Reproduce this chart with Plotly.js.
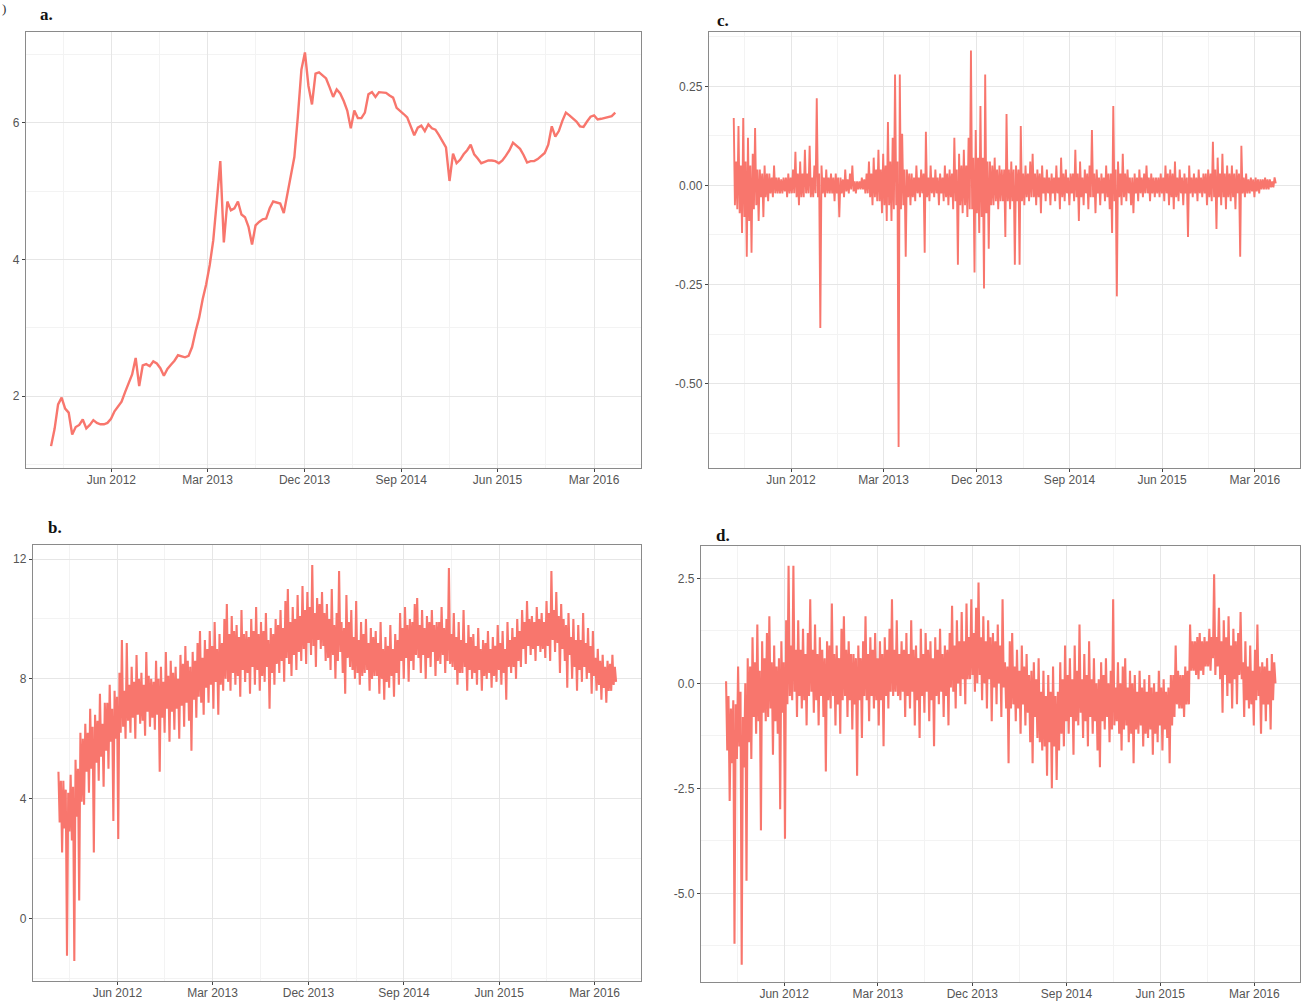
<!DOCTYPE html>
<html>
<head>
<meta charset="utf-8">
<script src="https://cdn.plot.ly/plotly-3.0.1.min.js"></script>
<style>
  html, body { margin: 0; padding: 0; background: #ffffff; }
  #chart { width: 1311px; height: 1003px; }
</style>
</head>
<body>
<div id="chart"></div>
<script>
// ---------------- DATA ----------------
// Panel a: smooth series, sampled every 10 days from 2011-12-13
const aStart = "2011-12-13";
const aStepDays = 10;
const aValues = [
  1.27,1.52,1.88,1.98,1.82,1.76,1.44,1.55,1.58,1.66,
  1.53,1.58,1.65,1.61,1.59,1.59,1.61,1.67,1.78,1.86,
  1.92,2.06,2.18,2.32,2.56,2.15,2.45,2.47,2.44,2.51,
  2.48,2.41,2.30,2.40,2.46,2.52,2.60,2.59,2.57,2.59,
  2.72,2.95,3.15,3.42,3.64,3.92,4.28,4.85,5.44,4.25,
  4.85,4.72,4.75,4.85,4.66,4.62,4.48,4.22,4.50,4.55,
  4.59,4.60,4.75,4.85,4.83,4.82,4.68,4.97,5.22,5.50,
  6.10,6.78,7.03,6.54,6.27,6.72,6.74,6.70,6.65,6.52,
  6.38,6.49,6.43,6.32,6.18,5.92,6.18,6.07,6.07,6.15,
  6.42,6.45,6.38,6.45,6.44,6.44,6.40,6.37,6.22,6.18,
  6.13,6.08,5.96,5.82,5.93,5.96,5.88,5.98,5.92,5.90,
  5.82,5.74,5.64,5.15,5.55,5.41,5.46,5.54,5.60,5.68,
  5.54,5.48,5.41,5.43,5.45,5.45,5.44,5.41,5.45,5.52,
  5.60,5.71,5.67,5.62,5.53,5.42,5.44,5.44,5.47,5.52,
  5.56,5.68,5.95,5.80,5.88,6.03,6.15,6.11,6.07,6.02,
  5.95,5.94,6.02,6.09,6.11,6.05,6.06,6.07,6.08,6.10,
  6.15
];

// Panels b, c, d: weekly high and low readings, weeks starting 2011-12-15
const nStart = "2011-12-15";
const nStepDays = 7;

const bHigh = [
  4.9,4.6,4.6,4.3,4.2,4.8,4.4,5.3,5.0,6.2,
  6.0,6.5,6.2,7.0,6.4,6.8,6.6,7.5,6.5,7.2,
  7.2,7.8,7.0,7.6,7.4,8.2,9.3,7.6,9.2,7.8,
  8.4,7.9,8.8,8.0,8.2,7.8,8.9,8.1,8.0,7.9,
  8.6,8.0,8.4,7.9,8.9,8.1,8.6,8.2,8.4,8.0,
  8.8,8.5,9.1,8.6,8.4,8.9,8.6,9.2,9.6,8.7,
  9.3,9.0,9.6,9.1,9.9,9.0,9.5,9.2,10.0,10.5,
  9.5,10.1,9.6,9.8,9.4,10.3,9.5,9.6,9.4,10.0,
  9.6,10.4,9.5,9.9,9.6,10.2,9.3,9.7,9.5,10.0,
  9.8,10.3,9.7,10.6,11.0,9.9,10.4,10.0,10.8,10.1,
  11.1,10.3,10.9,10.4,11.8,10.2,10.7,10.5,10.9,10.2,
  10.5,10.0,11.0,9.8,10.2,11.6,9.9,9.7,10.8,9.9,
  10.3,9.4,10.6,9.3,9.9,9.5,10.0,9.2,9.7,9.4,
  9.6,9.2,9.9,9.0,9.4,9.1,9.8,9.0,9.5,9.3,
  10.2,9.7,10.4,9.8,10.0,9.9,10.5,10.7,9.8,10.3,
  9.7,10.1,9.9,10.3,9.8,9.9,9.9,10.4,9.7,10.0,
  11.7,9.5,10.2,9.4,9.9,9.3,10.3,9.2,9.8,9.4,
  9.5,9.1,9.7,9.0,9.3,9.2,9.6,9.0,9.4,9.1,
  9.8,9.2,9.6,9.0,9.9,9.3,9.7,9.4,10.0,9.6,
  10.3,9.9,10.6,10.0,10.1,9.9,10.4,10.0,10.2,9.9,
  10.6,10.2,11.6,10.3,10.9,10.1,10.5,10.0,9.8,10.2,
  9.4,10.0,9.3,9.8,9.3,10.2,9.2,9.7,9.1,9.6,
  8.7,9.0,8.6,8.8,8.4,8.6,8.5,8.8,8.4
];
const bLow = [
  3.2,2.2,3.0,-1.25,2.9,2.6,-1.42,3.4,0.6,3.9,
  3.8,4.9,4.2,5.0,2.2,5.2,4.6,5.4,4.4,5.6,
  5.0,5.9,3.25,6.0,2.65,6.2,6.4,6.0,6.6,6.2,
  6.7,6.0,6.8,6.5,6.6,6.1,6.9,6.4,6.7,6.3,
  6.8,4.9,6.7,6.2,7.0,5.9,6.9,6.3,7.0,6.0,
  7.1,6.4,7.2,6.6,5.6,7.3,6.7,7.4,7.2,6.8,
  7.7,7.2,7.8,7.0,7.9,6.8,7.8,7.6,8.0,7.9,
  7.6,8.2,7.8,8.1,7.4,8.3,7.9,8.2,7.5,8.4,
  7.8,8.3,7.6,8.1,7.9,8.4,7.0,8.2,7.8,8.5,
  8.2,8.6,7.9,8.7,8.5,8.1,8.8,8.3,8.9,8.6,
  9.0,8.5,9.2,8.8,9.1,8.4,9.3,9.0,9.1,8.6,
  8.7,8.3,8.8,8.0,8.6,8.9,8.2,7.5,8.7,8.4,
  8.3,8.0,8.2,7.8,8.1,8.2,8.3,7.6,8.0,8.1,
  8.1,7.5,8.0,7.3,7.9,7.7,8.1,7.4,8.2,7.8,
  8.6,8.0,8.7,7.9,8.6,8.3,8.8,8.7,8.2,8.8,
  8.0,8.7,8.4,8.9,8.1,8.6,8.5,8.8,8.2,8.6,
  8.5,8.4,8.3,7.8,8.2,8.2,8.4,7.6,8.3,8.0,
  8.2,7.8,8.3,7.6,8.1,8.0,8.2,7.7,8.1,7.9,
  8.3,7.8,8.2,7.3,8.4,8.2,8.4,8.0,8.6,8.4,
  9.0,8.5,9.1,8.8,9.0,8.6,9.1,8.9,9.0,8.7,
  9.1,8.6,9.3,8.9,9.2,8.2,9.0,8.6,7.7,8.8,
  8.0,8.4,7.6,8.3,7.9,8.4,8.0,8.2,7.5,8.1,
  7.6,7.8,7.3,7.7,7.2,7.6,7.6,7.8,7.9
];

const cHigh = [
  0.17,0.06,0.15,0.05,0.17,0.06,0.12,0.05,0.08,0.145,
  0.04,0.04,0.03,0.05,0.03,0.03,0.02,0.05,0.02,0.02,
  0.015,0.02,0.02,0.03,0.02,0.04,0.085,0.03,0.06,0.03,
  0.09,0.03,0.10,0.02,0.05,0.22,0.03,0.05,0.02,0.04,
  0.02,0.03,0.02,0.03,0.02,0.02,0.015,0.04,0.015,0.03,
  0.05,0.01,0.01,0.01,0.02,0.015,0.03,0.06,0.03,0.07,
  0.04,0.09,0.04,0.08,0.05,0.16,0.06,0.12,0.28,0.06,
  0.28,0.13,0.04,0.04,0.03,0.03,0.02,0.05,0.02,0.04,
  0.03,0.135,0.02,0.05,0.02,0.04,0.02,0.03,0.02,0.05,
  0.03,0.04,0.03,0.12,0.04,0.08,0.05,0.09,0.05,0.12,
  0.34,0.07,0.14,0.07,0.20,0.07,0.28,0.06,0.06,0.05,
  0.07,0.04,0.05,0.04,0.04,0.18,0.04,0.06,0.04,0.05,
  0.04,0.15,0.03,0.05,0.03,0.06,0.08,0.03,0.04,0.03,
  0.05,0.02,0.04,0.02,0.03,0.02,0.05,0.02,0.07,0.03,
  0.04,0.02,0.03,0.03,0.09,0.03,0.06,0.02,0.04,0.03,
  0.05,0.14,0.03,0.04,0.02,0.03,0.02,0.05,0.03,0.03,
  0.20,0.04,0.06,0.03,0.08,0.03,0.04,0.02,0.02,0.03,
  0.02,0.04,0.02,0.03,0.05,0.02,0.03,0.02,0.02,0.02,
  0.03,0.02,0.05,0.03,0.04,0.03,0.06,0.02,0.04,0.02,
  0.03,0.02,0.05,0.02,0.03,0.02,0.04,0.02,0.03,0.03,
  0.04,0.03,0.11,0.04,0.07,0.03,0.08,0.03,0.05,0.03,
  0.05,0.03,0.04,0.03,0.10,0.02,0.03,0.015,0.02,0.015,
  0.02,0.015,0.015,0.015,0.02,0.015,0.015,0.01,0.02
];
const cLow = [
  -0.05,-0.06,-0.07,-0.12,-0.08,-0.18,-0.09,-0.17,-0.06,-0.05,
  -0.09,-0.03,-0.08,-0.03,-0.04,-0.02,-0.03,-0.02,-0.02,-0.02,
  -0.02,-0.015,-0.03,-0.02,-0.02,-0.02,-0.03,-0.05,-0.03,-0.03,
  -0.02,-0.02,-0.03,-0.03,-0.02,-0.03,-0.36,-0.02,-0.03,-0.02,
  -0.02,-0.02,-0.04,-0.02,-0.08,-0.02,-0.03,-0.015,-0.02,-0.01,
  -0.015,-0.02,-0.01,-0.01,-0.01,-0.02,-0.02,-0.03,-0.05,-0.03,
  -0.04,-0.04,-0.07,-0.05,-0.09,-0.05,-0.09,-0.06,-0.05,-0.66,
  -0.06,-0.05,-0.18,-0.03,-0.05,-0.03,-0.04,-0.02,-0.03,-0.02,
  -0.17,-0.03,-0.04,-0.02,-0.03,-0.02,-0.05,-0.02,-0.04,-0.03,
  -0.05,-0.03,-0.06,-0.04,-0.20,-0.05,-0.07,-0.05,-0.08,-0.06,
  -0.06,-0.22,-0.07,-0.12,-0.08,-0.26,-0.07,-0.16,-0.05,-0.05,
  -0.04,-0.06,-0.04,-0.04,-0.13,-0.04,-0.06,-0.04,-0.20,-0.04,
  -0.20,-0.04,-0.05,-0.03,-0.04,-0.03,-0.03,-0.05,-0.03,-0.07,
  -0.02,-0.04,-0.02,-0.05,-0.02,-0.04,-0.02,-0.06,-0.03,-0.04,
  -0.02,-0.05,-0.02,-0.04,-0.03,-0.09,-0.03,-0.05,-0.02,-0.06,
  -0.03,-0.03,-0.07,-0.02,-0.05,-0.02,-0.04,-0.03,-0.06,-0.12,
  -0.04,-0.28,-0.03,-0.05,-0.03,-0.04,-0.02,-0.05,-0.07,-0.02,
  -0.04,-0.02,-0.03,-0.02,-0.02,-0.04,-0.02,-0.03,-0.02,-0.03,
  -0.02,-0.04,-0.02,-0.05,-0.03,-0.06,-0.03,-0.04,-0.02,-0.05,
  -0.02,-0.13,-0.02,-0.03,-0.02,-0.04,-0.02,-0.03,-0.02,-0.05,
  -0.03,-0.04,-0.03,-0.11,-0.03,-0.05,-0.03,-0.06,-0.03,-0.04,
  -0.03,-0.06,-0.02,-0.18,-0.02,-0.03,-0.02,-0.02,-0.015,-0.03,
  -0.015,-0.02,-0.01,-0.01,-0.01,-0.01,-0.005,-0.005,0.005
];

const dHigh = [
  0.05,-0.3,-0.6,-0.4,-0.5,0.4,-0.2,-0.8,0.0,0.6,
  0.4,1.1,0.5,1.4,0.3,1.0,0.6,1.2,1.6,0.5,
  0.9,0.4,0.6,1.0,0.5,1.5,2.8,0.9,2.8,0.8,
  1.5,0.8,1.3,0.7,1.2,2.0,0.8,1.4,0.7,1.1,
  0.8,0.6,1.0,0.9,1.9,0.7,0.9,0.6,1.3,1.6,
  0.8,1.0,0.7,0.7,0.6,0.9,0.6,1.0,1.6,0.7,
  1.1,0.8,1.2,0.6,1.0,0.7,1.1,0.8,1.3,2.0,
  0.8,1.5,0.7,1.0,0.8,1.2,0.7,1.5,0.8,0.9,
  0.6,1.3,0.7,1.2,0.8,1.0,0.6,1.1,0.8,1.3,
  0.7,0.9,0.8,1.2,1.85,0.9,1.5,1.0,1.7,1.0,
  1.9,1.1,2.0,1.2,1.8,2.4,1.1,1.6,1.0,1.5,
  1.1,1.2,1.0,1.4,0.9,2.0,0.5,0.4,1.0,1.2,
  0.4,0.8,0.3,0.9,0.4,0.7,0.2,0.3,0.5,0.1,
  0.6,-0.2,0.3,-0.3,0.2,-0.2,0.4,-0.3,-0.2,0.5,
  0.1,0.9,0.2,0.6,0.1,0.9,0.3,1.4,0.1,0.7,
  0.2,1.0,0.1,0.6,0.0,0.1,0.5,0.2,0.6,0.0,
  0.3,2.0,-0.1,0.5,0.0,0.4,0.6,-0.1,0.3,0.0,
  0.2,-0.2,0.3,-0.1,0.1,-0.2,0.2,-0.1,0.0,-0.2,
  0.3,-0.1,0.1,-0.2,-0.1,0.2,0.2,0.9,0.3,0.2,
  0.2,0.4,0.3,1.4,1.0,1.0,1.1,1.2,1.0,1.1,
  1.0,1.3,1.1,2.6,1.1,1.8,1.0,1.5,1.1,1.6,
  0.9,1.3,1.0,1.2,1.7,0.5,1.0,0.4,0.9,0.3,
  0.8,1.4,0.4,0.5,0.4,0.6,0.3,0.7,0.5
];
const dLow = [
  -1.6,-2.8,-1.9,-6.2,-1.8,-1.5,-6.7,-2.0,-4.7,-1.4,
  -1.8,-0.8,-1.2,-0.9,-3.5,-0.7,-0.9,-0.8,-0.6,-1.7,
  -0.9,-1.2,-3.0,-0.7,-3.7,-0.5,-0.3,-0.4,-0.2,-0.8,
  -0.3,-0.6,-0.4,-1.0,-0.3,-0.2,-0.7,-0.4,-1.0,-0.3,
  -0.8,-2.1,-0.4,-0.6,-0.3,-1.0,-0.5,-1.2,-0.4,-0.3,
  -0.8,-0.4,-1.1,-0.5,-2.2,-0.4,-1.3,-0.3,-0.4,-0.9,
  -0.3,-0.6,-0.4,-1.0,-0.4,-1.5,-0.3,-0.6,-0.2,-0.3,
  -0.2,-0.3,-0.4,-0.2,-0.8,-0.3,-0.6,-0.2,-1.0,-0.4,
  -1.3,-0.3,-0.7,-0.2,-0.9,-0.4,-1.5,-0.3,-0.5,-0.2,
  -0.8,-0.3,-1.0,-0.1,-0.2,-0.6,0.0,-0.3,0.1,-0.5,
  0.1,0.1,0.2,-0.2,0.0,0.2,-0.4,0.0,-0.6,0.1,
  -0.9,-0.1,-0.5,0.0,-0.8,-0.1,-0.6,-1.9,-0.6,-0.5,
  -0.9,-0.6,-1.2,-0.5,-1.0,-0.7,-1.4,-1.9,-0.8,-1.3,
  -1.4,-1.6,-1.5,-2.2,-1.4,-2.5,-1.5,-2.3,-1.6,-1.2,
  -1.5,-0.9,-1.2,-0.8,-1.7,-0.9,-1.0,-0.7,-1.3,-0.9,
  -1.5,-0.8,-1.2,-0.9,-1.6,-2.0,-0.9,-1.1,-0.8,-1.4,
  -1.1,-1.0,-0.9,-1.2,-1.6,-1.1,-1.0,-1.4,-1.2,-1.9,
  -1.1,-1.2,-1.0,-1.5,-1.2,-1.3,-1.1,-1.7,-1.2,-1.4,
  -1.0,-1.6,-1.1,-1.3,-1.9,-1.0,-0.8,-0.5,-0.6,-0.6,
  -0.8,-0.5,-0.5,0.3,0.3,0.2,0.1,0.3,0.2,0.4,
  0.4,0.3,0.6,0.2,0.4,0.1,-0.7,0.2,-0.3,0.0,
  -0.6,0.1,-0.5,0.2,0.1,-0.8,-0.4,-0.6,-0.5,-1.0,
  -0.4,-0.3,-1.2,-0.5,-0.9,-0.5,-1.1,-0.4,0.0
];

// Tick labels
const xTickVals = ["2012-06-01","2013-03-01","2013-12-01","2014-09-01","2015-06-01","2016-03-01"];
const xTickText = ["Jun 2012","Mar 2013","Dec 2013","Sep 2014","Jun 2015","Mar 2016"];
const xMinorVals = ["2012-01-16","2012-10-15","2013-07-16","2014-04-17","2015-01-15","2015-10-16"];

const aYTicks = [2,4,6];            const aYText = ["2","4","6"];          const aYMinor = [1,3,5,7];
const bYTicks = [0,4,8,12];         const bYText = ["0","4","8","12"];     const bYMinor = [-2,2,6,10];
const cYTicks = [-0.5,-0.25,0,0.25]; const cYText = ["-0.50","-0.25","0.00","0.25"]; const cYMinor = [-0.625,-0.375,-0.125,0.125,0.375];
const dYTicks = [-5,-2.5,0,2.5];    const dYText = ["-5.0","-2.5","0.0","2.5"]; const dYMinor = [-6.25,-3.75,-1.25,1.25];

const panelLabels = ["a.","b.","c.","d."];

// ---------------- BUILD ----------------
const DAY = 86400000;
function fmt(ms) {
  const s = new Date(ms).toISOString();
  return s.slice(0, 10) + " " + s.slice(11, 19);
}
function makeDates(start, step, n) {
  const out = [];
  const t0 = new Date(start + "T00:00:00Z").getTime();
  for (let i = 0; i < n; i++) out.push(fmt(t0 + i * step * DAY));
  return out;
}
// weekly high then low (half a week later)
function weeklyHighLow(start, step, hi, lo) {
  const t0 = new Date(start + "T00:00:00Z").getTime();
  const x = [], y = [];
  for (let i = 0; i < hi.length; i++) {
    x.push(fmt(t0 + i * step * DAY));              y.push(hi[i]);
    x.push(fmt(t0 + (i + 0.5) * step * DAY));      y.push(lo[i]);
  }
  return {x, y};
}
const aDates = makeDates(aStart, aStepDays, aValues.length);
const bSer = weeklyHighLow(nStart, nStepDays, bHigh, bLow);
const cSer = weeklyHighLow(nStart, nStepDays, cHigh, cLow);
const dSer = weeklyHighLow(nStart, nStepDays, dHigh, dLow);

const W = 1311, H = 1003;
const LINE = "#F8766D";
const fx = p => p / W;
const fy = p => 1 - p / H;

const traces = [
  {x: aDates, y: aValues, xaxis: "x",  yaxis: "y",  type: "scatter", mode: "lines", line: {color: LINE, width: 2.4}},
  {x: bSer.x, y: bSer.y, xaxis: "x2", yaxis: "y2", type: "scatter", mode: "lines", line: {color: LINE, width: 2.1}},
  {x: cSer.x, y: cSer.y, xaxis: "x3", yaxis: "y3", type: "scatter", mode: "lines", line: {color: LINE, width: 1.9}},
  {x: dSer.x, y: dSer.y, xaxis: "x4", yaxis: "y4", type: "scatter", mode: "lines", line: {color: LINE, width: 2.1}}
];

const tickFont = {family: "Liberation Sans, Arial, sans-serif", size: 12, color: "#555555"};
const common = {
  showline: true, mirror: true, linecolor: "#8a8a8a", linewidth: 1.2,
  ticks: "outside", ticklen: 3, tickwidth: 1, tickcolor: "#444444",
  showgrid: true, gridcolor: "#e6e6e6", gridwidth: 1,
  zeroline: false, tickfont: tickFont, fixedrange: true
};
const xRange = ["2011-10-03", "2016-07-12"];
function xAxis(anchor, left, right) {
  return Object.assign({}, common, {
    type: "date", anchor: anchor, domain: [fx(left), fx(right)], range: xRange,
    tickmode: "array", tickvals: xTickVals, ticktext: xTickText, ticklabelstandoff: -3,
    minor: {tickmode: "array", tickvals: xMinorVals, showgrid: true, gridcolor: "#f3f3f3", gridwidth: 1, ticks: ""}
  });
}
function yAxis(anchor, top, bottom, range, tv, tt, minor) {
  return Object.assign({}, common, {
    anchor: anchor, domain: [fy(bottom), fy(top)], range: range,
    tickmode: "array", tickvals: tv, ticktext: tt,
    minor: {tickmode: "array", tickvals: minor, showgrid: true, gridcolor: "#f3f3f3", gridwidth: 1, ticks: ""}
  });
}

const labelFont = {family: "Liberation Serif, Times New Roman, serif", size: 17, color: "#111111"};
function label(text, px, py) {
  return {text: "<b>" + text + "</b>", xref: "paper", yref: "paper", x: fx(px), y: fy(py),
          xanchor: "left", yanchor: "middle", showarrow: false, font: labelFont};
}

const layout = {
  width: W, height: H,
  margin: {l: 0, r: 0, t: 0, b: 0},
  paper_bgcolor: "#ffffff", plot_bgcolor: "#ffffff",
  showlegend: false,
  xaxis:  xAxis("y", 26, 641),
  yaxis:  yAxis("x", 32, 468, [0.95, 7.33], aYTicks, aYText, aYMinor),
  xaxis2: xAxis("y2", 33, 641),
  yaxis2: yAxis("x2", 545, 981, [-2.09, 12.47], bYTicks, bYText, bYMinor),
  xaxis3: xAxis("y3", 709, 1300),
  yaxis3: yAxis("x3", 32, 468, [-0.713, 0.387], cYTicks, cYText, cYMinor),
  xaxis4: xAxis("y4", 701, 1300),
  yaxis4: yAxis("x4", 546, 982, [-7.11, 3.27], dYTicks, dYText, dYMinor),
  annotations: [
    label(panelLabels[0], 38, 15),
    label(panelLabels[1], 46, 527),
    label(panelLabels[2], 715, 20),
    label(panelLabels[3], 714, 535),
    {text: ")", xref: "paper", yref: "paper", x: fx(0), y: fy(8), xanchor: "left", yanchor: "middle",
     showarrow: false, font: {family: "Liberation Serif, serif", size: 13, color: "#333333"}}
  ]
};

Plotly.newPlot("chart", traces, layout, {displayModeBar: false, staticPlot: true});
</script>
</body>
</html>
